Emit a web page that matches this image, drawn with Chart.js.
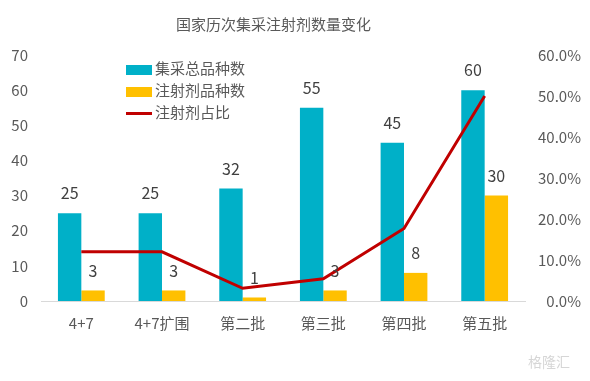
<!DOCTYPE html>
<html><head><meta charset="utf-8">
<script src="https://cdn.jsdelivr.net/npm/chart.js@4/dist/chart.umd.min.js"></script>
<style>
html,body{margin:0;padding:0;background:#fff;}
#wrap{position:relative;width:590px;height:381px;overflow:hidden;font-family:"Microsoft YaHei","Noto Sans CJK SC",sans-serif;}
canvas{position:absolute;left:0;top:0;}
#title{position:absolute;left:176px;top:13px;font-size:15px;color:#595959;white-space:nowrap;}
.lg{position:absolute;left:126px;font-size:15px;color:#595959;white-space:nowrap;line-height:20px;}
.lg i{display:inline-block;width:26px;vertical-align:middle;margin-right:3px;}
#mark{position:absolute;left:528px;top:351px;font-size:14px;color:#d6d6d6;}
</style></head>
<body>
<div id="wrap">
<canvas id="c" width="590" height="381"></canvas>
<div id="title">国家历次集采注射剂数量变化</div>
<div class="lg" style="top:58px"><i style="height:10px;background:#00B0C8"></i>集采总品种数</div>
<div class="lg" style="top:80px"><i style="height:10px;background:#FFC000"></i>注射剂品种数</div>
<div class="lg" style="top:102px"><i style="height:3px;background:#C00000"></i>注射剂占比</div>
<div id="mark">格隆汇</div>
</div>
<script>
const categories = ['4+7','4+7扩围','第二批','第三批','第四批','第五批'];
const totalCounts = [25,25,32,55,45,60];
const injectionCounts = [3,3,1,3,8,30];
const injectionShare = [12,12,3.1,5.4,17.7,50];
const leftTicks = [0,10,20,30,40,50,60,70];
const rightTicks = ['0.0%','10.0%','20.0%','30.0%','40.0%','50.0%','60.0%'];

const FONT = '"Microsoft YaHei","Noto Sans CJK SC",sans-serif';

const labelPlugin = {
  id:'barLabels',
  afterDatasetsDraw(chart){
    const ctx = chart.ctx;
    ctx.save();
    ctx.font = '16px ' + FONT;
    ctx.fillStyle = '#404040';
    ctx.textAlign = 'center';
    ctx.textBaseline = 'middle';
    [1,2].forEach(di=>{
      const meta = chart.getDatasetMeta(di);
      const vals = chart.data.datasets[di].data;
      meta.data.forEach((el,i)=>{ ctx.fillText(String(vals[i]), el.x, el.y - 20); });
    });
    ctx.restore();
  }
};

new Chart(document.getElementById('c'), {
  type:'bar',
  data:{
    labels:categories,
    datasets:[
      {type:'line', label:'注射剂占比', data:injectionShare, yAxisID:'y1', borderColor:'#C00000', backgroundColor:'#C00000', borderWidth:3, pointRadius:0, tension:0, order:0},
      {label:'集采总品种数', data:totalCounts, yAxisID:'y', backgroundColor:'#00B0C8', categoryPercentage:0.58, barPercentage:1, order:1},
      {label:'注射剂品种数', data:injectionCounts, yAxisID:'y', backgroundColor:'#FFC000', categoryPercentage:0.58, barPercentage:1, order:1}
    ]
  },
  options:{
    responsive:false, animation:false, devicePixelRatio:1,
    layout:{padding:{top:55,left:0,right:9,bottom:0}},
    plugins:{legend:{display:false}, title:{display:false}, tooltip:{enabled:false}},
    scales:{
      x:{grid:{display:false, drawTicks:false}, border:{display:true,color:'#d9d9d9',width:1},
         ticks:{font:{size:15,family:FONT}, color:'#595959', padding:13, maxRotation:0},
         afterFit(s){ s.height = 80; }},
      y:{position:'left', min:0, max:70, grid:{display:false, drawTicks:false}, border:{display:false},
         ticks:{stepSize:10, font:{size:15,family:FONT}, color:'#595959', padding:13,
           callback:(v,i)=>leftTicks[i]},
         afterFit(s){ s.width = 41; }},
      y1:{position:'right', min:0, max:60, grid:{display:false, drawTicks:false}, border:{display:false},
         ticks:{stepSize:10, font:{size:15,family:FONT}, color:'#595959', padding:10, crossAlign:'far',
           callback:(v,i)=>rightTicks[i]},
         afterFit(s){ s.width = 56; }}
    }
  },
  plugins:[labelPlugin]
});
</script>
</body></html>
